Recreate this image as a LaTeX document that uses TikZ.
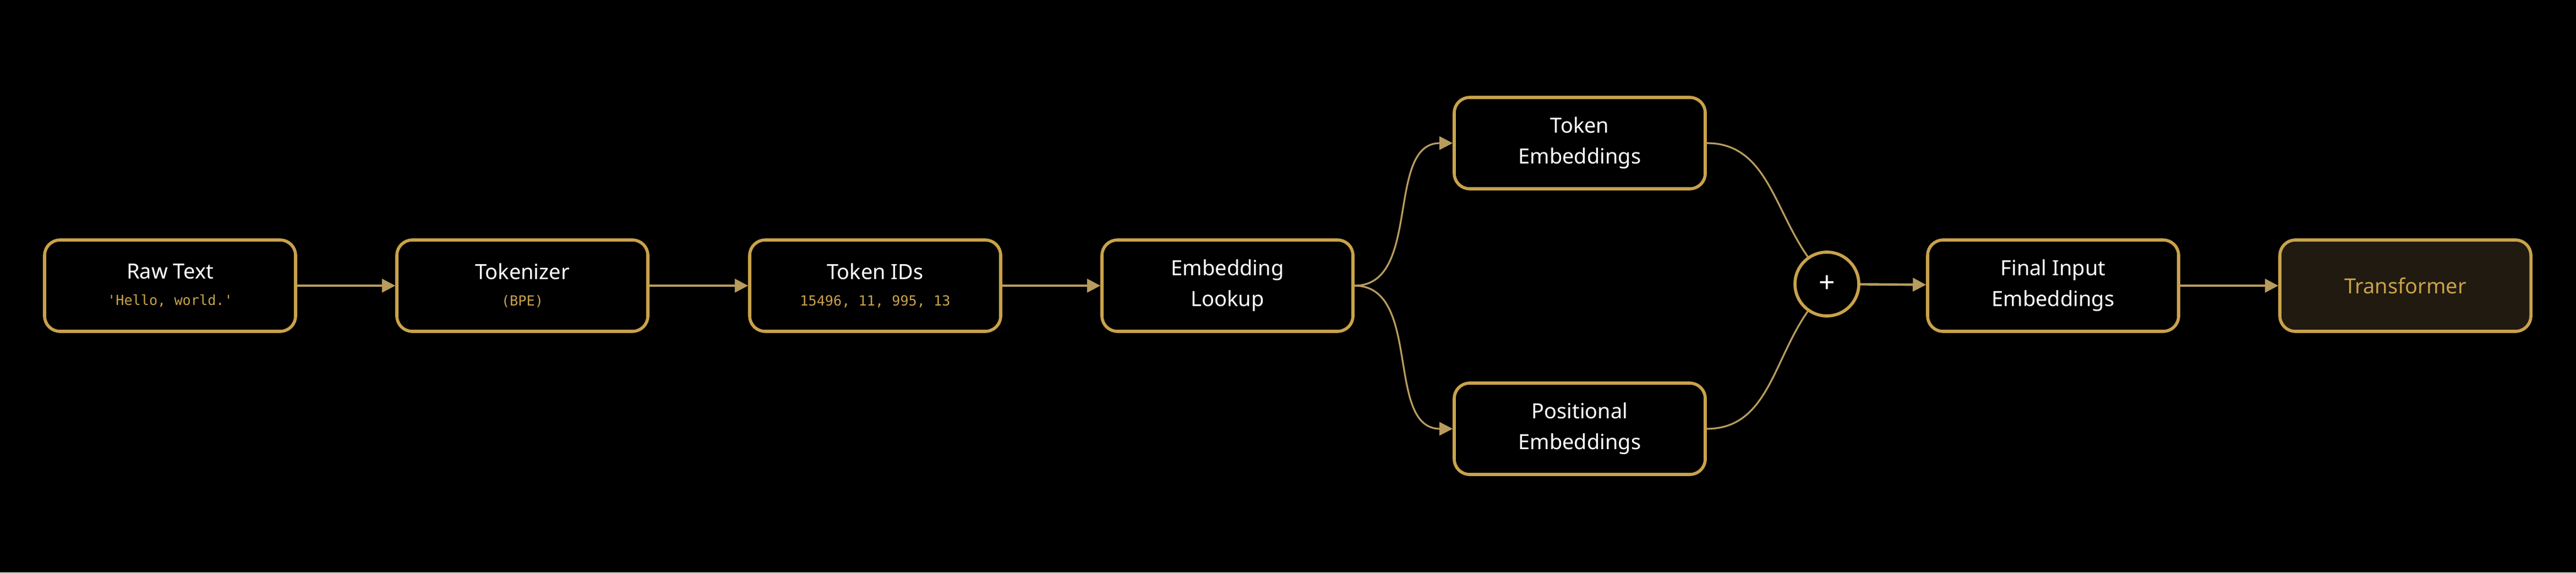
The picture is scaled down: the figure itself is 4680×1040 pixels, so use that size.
\documentclass[tikz,border=0pt]{standalone}
\usepackage{fontspec}
\setmainfont{Noto Sans}
\setmonofont{DejaVu Sans Mono}
\usetikzlibrary{arrows.meta}
\definecolor{gold}{HTML}{C9A24A}
\definecolor{arr}{HTML}{B89C5E}
\definecolor{tfill}{HTML}{201A10}
\newcommand{\subtxt}[1]{{\ttfamily\fontsize{6.3}{8}\selectfont\color{gold}#1}}
\begin{document}
\begin{tikzpicture}[x=0.25pt,y=-0.25pt,
  box/.style={draw=gold,line width=1.4pt,rounded corners=7pt,minimum width=114pt,minimum height=41.5pt,fill=black,text=white,align=center,font=\fontsize{9.5}{14}\selectfont,inner sep=0pt},
  arrow/.style={draw=arr,line width=1.1pt,-{Triangle[length=6pt,width=6pt]}},
  curve/.style={draw=arr,line width=0.8pt},
  curvea/.style={curve,-{Triangle[length=6pt,width=6pt]}}]
\fill[black] (0,0) rectangle (4680,1040);
\node[box] (raw) at (309,519) {Raw Text\\[-2pt]\subtxt{'Hello, world.'}};
\node[box] (tok) at (949,519) {Tokenizer\\[-2pt]\subtxt{(BPE)}};
\node[box] (ids) at (1590,519) {Token IDs\\[-2pt]\subtxt{15496, 11, 995, 13}};
\node[box] (look) at (2230,519) {Embedding\\Lookup};
\node[box] (temb) at (2870,260) {Token\\Embeddings};
\node[box] (pemb) at (2870,779) {Positional\\Embeddings};
\node[draw=gold,line width=1.4pt,circle,minimum size=29pt,inner sep=0pt,text=white,font=\fontsize{13}{13}\selectfont] (plus) at (3319,516) {+};
\node[box] (fin) at (3730,519) {Final Input\\Embeddings};
\node[box,fill=tfill,text=gold,font=\fontsize{9.5}{14}\selectfont\bfseries] (tr) at (4370,519) {Transformer};
\draw[arrow] (raw) -- (tok);
\draw[arrow] (tok) -- (ids);
\draw[arrow] (ids) -- (look);
\draw[curvea] (look.east) to[out=0,in=180] (temb.west);
\draw[curvea] (look.east) to[out=0,in=180] (pemb.west);
\draw[curve] (temb.east) to[out=0,in=125] (plus);
\draw[curve] (pemb.east) to[out=0,in=235] (plus);
\draw[arrow] (plus) -- (fin);
\draw[arrow] (fin) -- (tr);
\end{tikzpicture}
\end{document}
